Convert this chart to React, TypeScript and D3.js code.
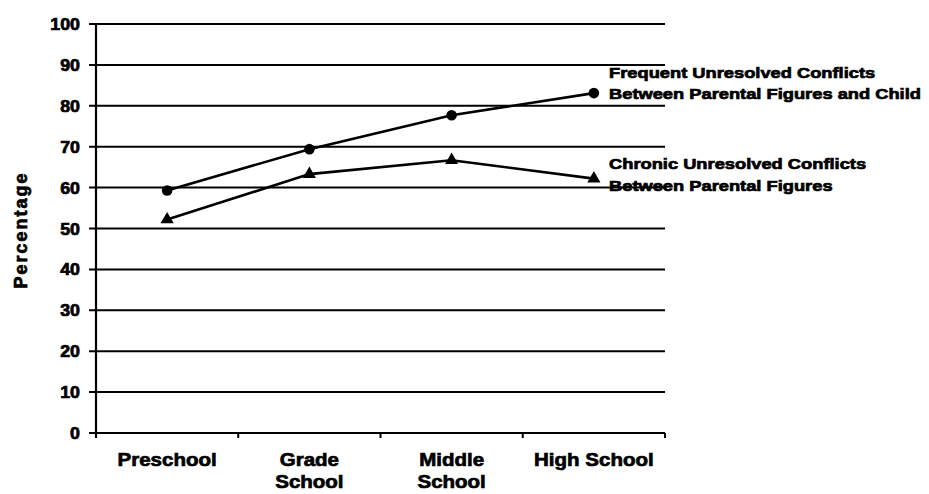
import React from "react";
import * as d3 from "d3";

const categories = ["Preschool", "Grade School", "Middle School", "High School"];
const categoryLines = [["Preschool"], ["Grade", "School"], ["Middle", "School"], ["High School"]];
const frequentValues = [59.3, 69.4, 77.7, 83.1];
const chronicValues = [52.2, 63.3, 66.7, 62.2];
const yTicks = [0, 10, 20, 30, 40, 50, 60, 70, 80, 90, 100];
const frequentLabel = ["Frequent Unresolved Conflicts", "Between Parental Figures and Child"];
const chronicLabel = ["Chronic Unresolved Conflicts", "Between Parental Figures"];
const yTitle = "Percentage";

const W = 929;
const H = 494;
const left = 96;
const right = 665;
const top = 24;
const bottom = 433;
const FONT = "'Liberation Sans', Arial, Helvetica, sans-serif";

function Label({ x, y, text, size, sx = 1, anchor = "start", stroke = 0.7 }: any) {
  return (
    <text
      transform={`translate(${x},${y}) scale(${sx},1)`}
      fontFamily={FONT}
      fontWeight="bold"
      fontSize={size}
      textAnchor={anchor}
      fill="#000"
      stroke="#000"
      strokeWidth={stroke}
    >
      {text}
    </text>
  );
}

export default function App() {
  const x = d3.scaleBand<string>().domain(categories).range([left, right]).padding(0);
  const y = d3.scaleLinear().domain([0, 100]).range([bottom, top]);
  const cx = (i: number) => (x(categories[i]) as number) + x.bandwidth() / 2;
  const line = d3
    .line<number>()
    .x((_, i) => cx(i))
    .y((d) => y(d));
  const tri = d3.symbol().type(d3.symbolTriangle).size(75)() as string;
  const boundaries = [...categories.map((c) => x(c) as number), right];
  const lastI = categories.length - 1;
  const lx = 609;

  return (
    <svg
      width={W}
      height={H}
      style={{ position: "absolute", left: 0, top: 0, background: "#fff" }}
    >
      {yTicks.map((t) => (
        <g key={t}>
          <line x1={left - 7} x2={right} y1={y(t)} y2={y(t)} stroke="#000" strokeWidth={2} />
          <Label x={80} y={y(t) + 6} text={String(t)} size={16.5} sx={1.08} anchor="end" />
        </g>
      ))}
      <line x1={left} x2={left} y1={top} y2={bottom + 5} stroke="#000" strokeWidth={2.2} />
      {boundaries.map((b, i) => (
        <line key={i} x1={b} x2={b} y1={bottom} y2={bottom + 5} stroke="#000" strokeWidth={2} />
      ))}
      <path d={line(frequentValues) as string} fill="none" stroke="#000" strokeWidth={2.6} />
      <path d={line(chronicValues) as string} fill="none" stroke="#000" strokeWidth={2.6} />
      {frequentValues.map((v, i) => (
        <circle key={i} cx={cx(i)} cy={y(v)} r={5.3} fill="#000" />
      ))}
      {chronicValues.map((v, i) => (
        <path key={i} d={tri} transform={`translate(${cx(i)},${y(v)})`} fill="#000" />
      ))}
      {categoryLines.map((ls, i) =>
        ls.map((s, j) => (
          <Label key={i + "-" + j} x={cx(i)} y={466 + j * 22} text={s} size={19} sx={1.08} anchor="middle" />
        ))
      )}
      <g transform="translate(27,230) rotate(-90)">
        <text
          fontFamily={FONT}
          fontWeight="bold"
          fontSize={18}
          textAnchor="middle"
          letterSpacing={2}
          fill="#000"
          stroke="#000"
          strokeWidth={0.7}
        >
          {yTitle}
        </text>
      </g>
      {frequentLabel.map((s, j) => (
        <Label key={"f" + j} x={lx} y={y(frequentValues[lastI]) - 15 + j * 21} text={s} size={15} sx={1.22} />
      ))}
      {chronicLabel.map((s, j) => (
        <Label key={"c" + j} x={lx} y={y(chronicValues[lastI]) - 10 + j * 22} text={s} size={15} sx={1.22} />
      ))}
    </svg>
  );
}
